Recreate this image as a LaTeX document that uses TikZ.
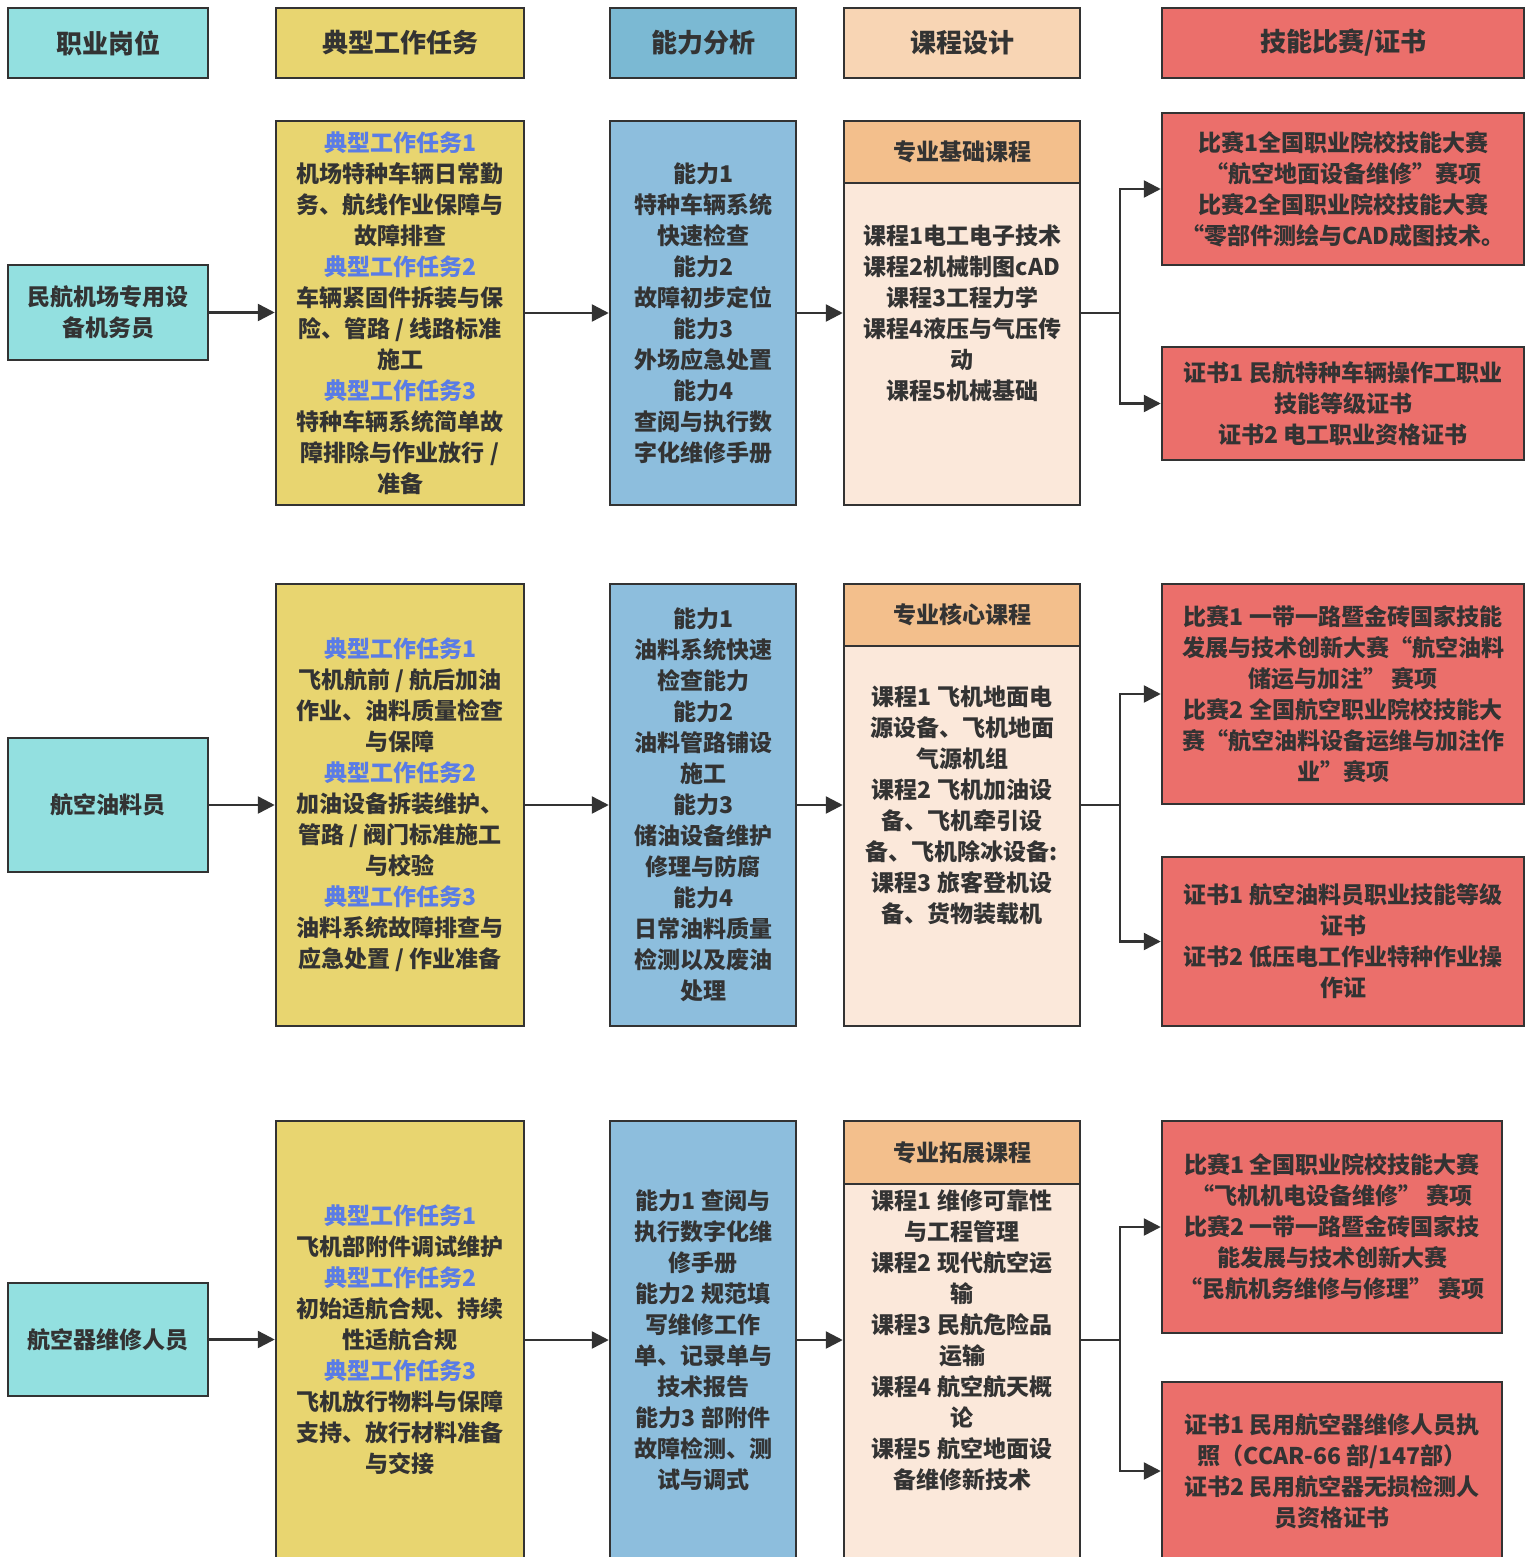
\documentclass[tikz,border=0pt]{standalone}
\usepackage{fontspec}
\setmainfont{Noto Sans CJK SC}
\usetikzlibrary{arrows.meta}
\definecolor{cyanbox}{HTML}{93E0E0}
\definecolor{yelbox}{HTML}{E8D570}
\definecolor{bluehd}{HTML}{7BB9D3}
\definecolor{bluebox}{HTML}{8DBEDD}
\definecolor{peachhd}{HTML}{F8D5B4}
\definecolor{coursehd}{HTML}{F3BF8C}
\definecolor{coursebd}{HTML}{FBE8DA}
\definecolor{redbox}{HTML}{EB6F6B}
\definecolor{linec}{HTML}{333333}
\definecolor{textc}{HTML}{333333}
\definecolor{bluet}{HTML}{5A7CE6}
\tikzset{
  box/.style={draw=linec, line width=2.5pt, inner sep=0pt, outer sep=0pt, align=center,
    font=\bfseries\fontsize{23}{31}\selectfont, text=textc},
  hdrbox/.style={box, font=\bfseries\fontsize{26}{31}\selectfont},
  sz/.style 2 args={minimum width=#1pt, minimum height=#2pt},
  conn/.style={draw=linec, line width=2.5pt, -{Triangle[length=17pt,width=17pt]}},
  subhd/.style={inner sep=0pt, font=\bfseries\fontsize{23}{31}\selectfont, text=textc},
}
\newcommand{\tk}[1]{\textcolor{bluet}{#1}}
\begin{document}
\begin{tikzpicture}[x=1pt,y=-1pt]
\useasboundingbox[fill=white] (0,0) rectangle (1526,1557);
% headers
\node[hdrbox, fill=cyanbox, sz={200}{70}] (h1) at (108,43) {职业岗位};
\node[hdrbox, fill=yelbox, sz={248}{70}] (h2) at (400,43) {典型工作任务};
\node[hdrbox, fill=bluehd, sz={186}{70}] (h3) at (703,43) {能力分析};
\node[hdrbox, fill=peachhd, sz={236}{70}] (h4) at (962,43) {课程设计};
\node[hdrbox, fill=redbox, sz={362}{70}] (h5) at (1343,43) {技能比赛/证书};

% ---------- row 1
\node[box, fill=cyanbox, sz={200}{95}] (r1p) at (108,312.5) {民航机场专用设\\备机务员};
\node[box, fill=yelbox, sz={248}{384}] (r1t) at (400,313) {\tk{典型工作任务1}\\机场特种车辆日常勤\\务、航线作业保障与\\故障排查\\\tk{典型工作任务2}\\车辆紧固件拆装与保\\险、管路 / 线路标准\\施工\\\tk{典型工作任务3}\\特种车辆系统简单故\\障排除与作业放行 /\\准备};
\node[box, fill=bluebox, sz={186}{384}] (r1a) at (703,313) {能力1\\特种车辆系统\\快速检查\\能力2\\故障初步定位\\能力3\\外场应急处置\\能力4\\查阅与执行数\\字化维修手册};
\node[box, fill=coursebd, sz={236}{384}] (r1c) at (962,313) {课程1电工电子技术\\课程2机械制图cAD\\课程3工程力学\\课程4液压与气压传\\动\\课程5机械基础};
\draw[linec, line width=2.5pt, fill=coursehd] (r1c.north west) rectangle ([yshift=-62pt]r1c.north east);
\node[subhd] (r1h) at ([yshift=-31pt]r1c.north) {专业基础课程};
\node[box, fill=redbox, sz={362}{152}] (r1m) at (1343,189) {比赛1全国职业院校技能大赛\\“航空地面设备维修”赛项\\比赛2全国职业院校技能大赛\\“零部件测绘与CAD成图技术。};
\node[box, fill=redbox, sz={362}{113}] (r1z) at (1343,403.5) {证书1 民航特种车辆操作工职业\\技能等级证书\\证书2 电工职业资格证书};

% ---------- row 2
\node[box, fill=cyanbox, sz={200}{134}] (r2p) at (108,805) {航空油料员};
\node[box, fill=yelbox, sz={248}{442}] (r2t) at (400,805) {\tk{典型工作任务1}\\飞机航前 / 航后加油\\作业、油料质量检查\\与保障\\\tk{典型工作任务2}\\加油设备拆装维护、\\管路 / 阀门标准施工\\与校验\\\tk{典型工作任务3}\\油料系统故障排查与\\应急处置 / 作业准备};
\node[box, fill=bluebox, sz={186}{442}] (r2a) at (703,805) {能力1\\油料系统快速\\检查能力\\能力2\\油料管路铺设\\施工\\能力3\\储油设备维护\\修理与防腐\\能力4\\日常油料质量\\检测以及废油\\处理};
\node[box, fill=coursebd, sz={236}{442}] (r2c) at (962,805) {课程1 飞机地面电\\源设备、飞机地面\\气源机组\\课程2 飞机加油设\\备、飞机牵引设\\备、飞机除冰设备:\\课程3 旅客登机设\\备、货物装载机};
\draw[linec, line width=2.5pt, fill=coursehd] (r2c.north west) rectangle ([yshift=-62pt]r2c.north east);
\node[subhd] (r2h) at ([yshift=-31pt]r2c.north) {专业核心课程};
\node[box, fill=redbox, sz={362}{220}] (r2m) at (1343,694) {比赛1 一带一路暨金砖国家技能\\发展与技术创新大赛“航空油料\\储运与加注” 赛项\\比赛2 全国航空职业院校技能大\\赛“航空油料设备运维与加注作\\业”赛项};
\node[box, fill=redbox, sz={362}{169}] (r2z) at (1343,941.5) {证书1 航空油料员职业技能等级\\证书\\证书2 低压电工作业特种作业操\\作证};

% ---------- row 3
\node[box, fill=cyanbox, sz={200}{113}] (r3p) at (108,1339.5) {航空器维修人员};
\node[box, fill=yelbox, sz={248}{438}] (r3t) at (400,1340) {\tk{典型工作任务1}\\飞机部附件调试维护\\\tk{典型工作任务2}\\初始适航合规、持续\\性适航合规\\\tk{典型工作任务3}\\飞机放行物料与保障\\支持、放行材料准备\\与交接};
\node[box, fill=bluebox, sz={186}{438}] (r3a) at (703,1340) {能力1 查阅与\\执行数字化维\\修手册\\能力2 规范填\\写维修工作\\单、记录单与\\技术报告\\能力3 部附件\\故障检测、测\\试与调式};
\node[box, fill=coursebd, sz={236}{438}] (r3c) at (962,1340) {课程1 维修可靠性\\与工程管理\\课程2 现代航空运\\输\\课程3 民航危险品\\运输\\课程4 航空航天概\\论\\课程5 航空地面设\\备维修新技术};
\draw[linec, line width=2.5pt, fill=coursehd] (r3c.north west) rectangle ([yshift=-63pt]r3c.north east);
\node[subhd] (r3h) at ([yshift=-31.5pt]r3c.north) {专业拓展课程};
\node[box, fill=redbox, sz={340}{212}] (r3m) at (1332,1227) {比赛1 全国职业院校技能大赛\\“飞机机电设备维修” 赛项\\比赛2 一带一路暨金砖国家技\\能发展与技术创新大赛\\“民航机务维修与修理” 赛项};
\node[box, fill=redbox, sz={340}{178}] (r3z) at (1332,1471) {证书1 民用航空器维修人员执\\照（CCAR-66 部/147部）\\证书2 民用航空器无损检测人\\员资格证书};

% ---------- connectors
\foreach \r in {1,2,3}{
  \draw[conn] (r\r p.east) -- ([xshift=-1.25pt]r\r p.east -| r\r t.west);
  \draw[conn] (r\r t.east) -- ([xshift=-1.25pt]r\r t.east -| r\r a.west);
  \draw[conn] (r\r a.east) -- ([xshift=-1.25pt]r\r a.east -| r\r c.west);
  \coordinate (b\r) at ([xshift=40pt]r\r c.east);
  \draw[draw=linec, line width=2.5pt] (r\r c.east) -- (b\r);
  \draw[conn] (b\r) |- ([xshift=-1.25pt]r\r m.west);
  \draw[conn] (b\r) |- ([xshift=-1.25pt]r\r z.west);
}
\end{tikzpicture}
\end{document}
